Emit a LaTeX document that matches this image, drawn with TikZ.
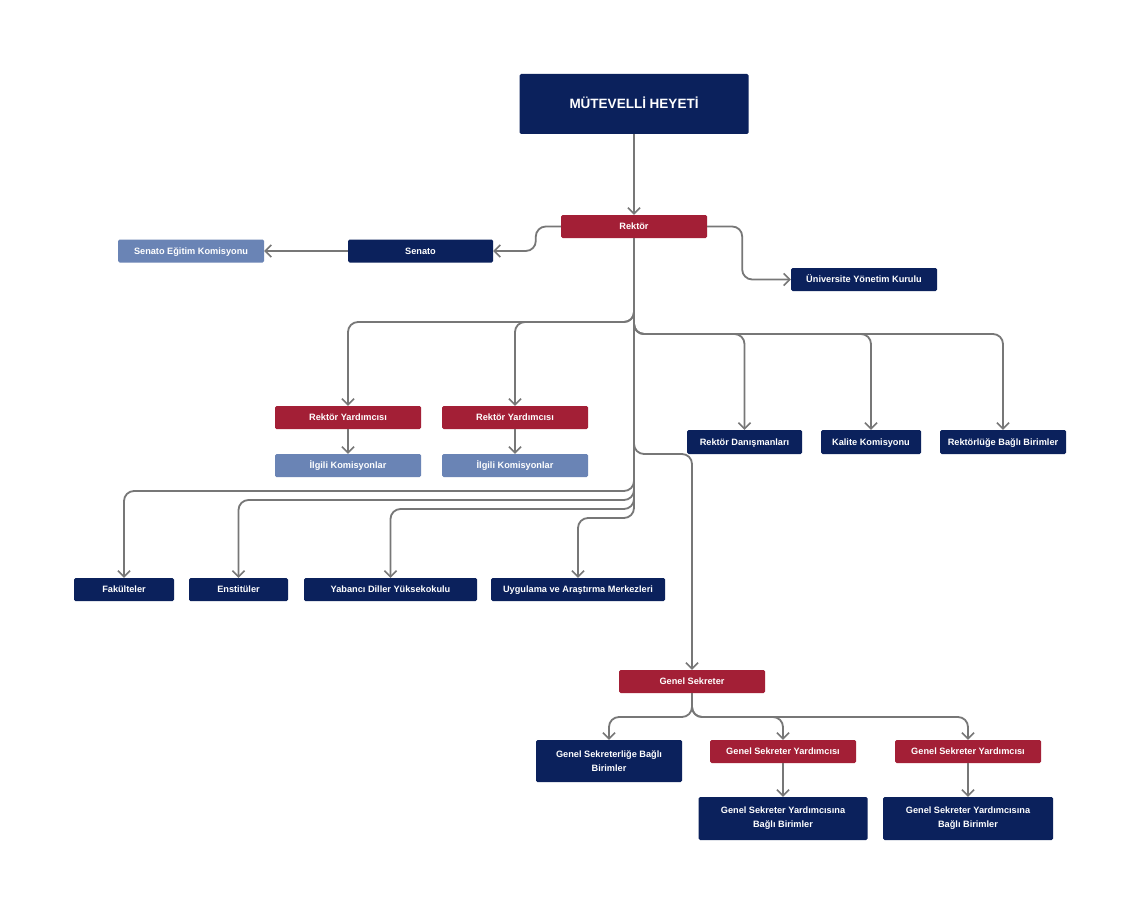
\documentclass[tikz,border=0pt]{standalone}
\usepackage{fontspec}
\setmainfont{Liberation Sans}
\usetikzlibrary{arrows.meta,calc}
\definecolor{navy}{HTML}{0B215C}
\definecolor{crim}{HTML}{A31F36}
\definecolor{lblue}{HTML}{6A84B5}
\definecolor{lgray}{HTML}{777777}
\tikzset{
  base/.style={rectangle, rounded corners=1.5pt, inner sep=0pt, text=white,
    font=\fontsize{9.2}{14}\selectfont\bfseries, align=center},
  one/.style={text height=6.6pt, text depth=0pt},
  nbox/.style={base, fill=navy},
  rbox/.style={base, fill=crim},
  bbox/.style={base, fill=lblue},
  conn/.style={draw=lgray, line width=1.8pt, rounded corners=10pt,
    -{Straight Barb[length=6pt,width=12pt,line width=1.6pt]}},
}
\begin{document}
\begin{tikzpicture}[x=1pt,y=-1pt]
\useasboundingbox (0,0) rectangle (1140,915);
\fill[white] (0,0) rectangle (1140,915);
% nodes
\node[nbox, minimum width=229pt, minimum height=60pt, font=\fontsize{13.5}{15}\selectfont\bfseries, text height=9.7pt, text depth=0pt] (mh) at (634,104) {MÜTEVELLİ HEYETİ};
\node[rbox, one, minimum width=146pt, minimum height=23pt] (rektor) at (634,226.5) {Rektör};
\node[nbox, one, minimum width=145pt, minimum height=23pt] (senato) at (420.5,251) {Senato};
\node[bbox, one, minimum width=146pt, minimum height=23pt] (sek) at (191,251) {Senato Eğitim Komisyonu};
\node[nbox, one, minimum width=146pt, minimum height=23pt] (uyk) at (864,279.5) {Üniversite Yönetim Kurulu};
\node[rbox, one, minimum width=146pt, minimum height=23pt] (ry1) at (348,417.5) {Rektör Yardımcısı};
\node[bbox, one, minimum width=146pt, minimum height=23pt] (ik1) at (348,465.5) {İlgili Komisyonlar};
\node[rbox, one, minimum width=146pt, minimum height=23pt] (ry2) at (515,417.5) {Rektör Yardımcısı};
\node[bbox, one, minimum width=146pt, minimum height=23pt] (ik2) at (515,465.5) {İlgili Komisyonlar};
\node[nbox, one, minimum width=115pt, minimum height=24pt] (rd) at (744.5,442) {Rektör Danışmanları};
\node[nbox, one, minimum width=100pt, minimum height=24pt] (kk) at (871,442) {Kalite Komisyonu};
\node[nbox, one, minimum width=126pt, minimum height=24pt] (rbb) at (1003,442) {Rektörlüğe Bağlı Birimler};
\node[nbox, one, minimum width=100pt, minimum height=23pt] (fak) at (124,589.5) {Fakülteler};
\node[nbox, one, minimum width=99pt, minimum height=23pt] (ens) at (238.5,589.5) {Enstitüler};
\node[nbox, one, minimum width=173pt, minimum height=23pt] (ydy) at (390.5,589.5) {Yabancı Diller Yüksekokulu};
\node[nbox, one, minimum width=174pt, minimum height=23pt] (uam) at (578,589.5) {Uygulama ve Araştırma Merkezleri};
\node[rbox, one, minimum width=146pt, minimum height=23pt] (gs) at (692,681.5) {Genel Sekreter};
\node[nbox, minimum width=146pt, minimum height=42pt] (gsbb) at (609,761) {Genel Sekreterliğe Bağlı\\Birimler};
\node[rbox, one, minimum width=146pt, minimum height=23pt] (gsy1) at (783,751.5) {Genel Sekreter Yardımcısı};
\node[rbox, one, minimum width=146pt, minimum height=23pt] (gsy2) at (968,751.5) {Genel Sekreter Yardımcısı};
\node[nbox, minimum width=169pt, minimum height=43pt] (gsyb1) at (783,818.5) {Genel Sekreter Yardımcısına\\Bağlı Birimler};
\node[nbox, minimum width=170pt, minimum height=43pt] (gsyb2) at (968,818.5) {Genel Sekreter Yardımcısına\\Bağlı Birimler};
% junction levels
\coordinate (hA) at (0,322);
\coordinate (hB) at (0,334);
\coordinate (hG) at (0,454);
\coordinate (h1) at (0,491);
\coordinate (h2) at (0,500);
\coordinate (h3) at (0,509);
\coordinate (h4) at (0,518);
\coordinate (hS) at (0,717);
% connectors
\draw[conn] (mh.south) -- (rektor.north);
\draw[conn] (rektor.west) -- ++(-25,0) |- (senato.east);
\draw[conn] (rektor.east) -- ++(35,0) |- (uyk.west);
\draw[conn] (senato.west) -- (sek.east);
\draw[conn] (rektor.south) |- (ry1.north |- hA) -- (ry1.north);
\draw[conn] (rektor.south) |- (ry2.north |- hA) -- (ry2.north);
\draw[conn] (ry1.south) -- (ik1.north);
\draw[conn] (ry2.south) -- (ik2.north);
\draw[conn] (rektor.south) |- (rd.north |- hB) -- (rd.north);
\draw[conn] (rektor.south) |- (kk.north |- hB) -- (kk.north);
\draw[conn] (rektor.south) |- (rbb.north |- hB) -- (rbb.north);
\draw[conn] (rektor.south) |- (gs.north |- hG) -- (gs.north);
\draw[conn] (rektor.south) |- (fak.north |- h1) -- (fak.north);
\draw[conn] (rektor.south) |- (ens.north |- h2) -- (ens.north);
\draw[conn] (rektor.south) |- (ydy.north |- h3) -- (ydy.north);
\draw[conn] (rektor.south) |- (uam.north |- h4) -- (uam.north);
\draw[conn] (gs.south) |- (gsbb.north |- hS) -- (gsbb.north);
\draw[conn] (gs.south) |- (gsy1.north |- hS) -- (gsy1.north);
\draw[conn] (gs.south) |- (gsy2.north |- hS) -- (gsy2.north);
\draw[conn] (gsy1.south) -- (gsyb1.north);
\draw[conn] (gsy2.south) -- (gsyb2.north);
\end{tikzpicture}
\end{document}
